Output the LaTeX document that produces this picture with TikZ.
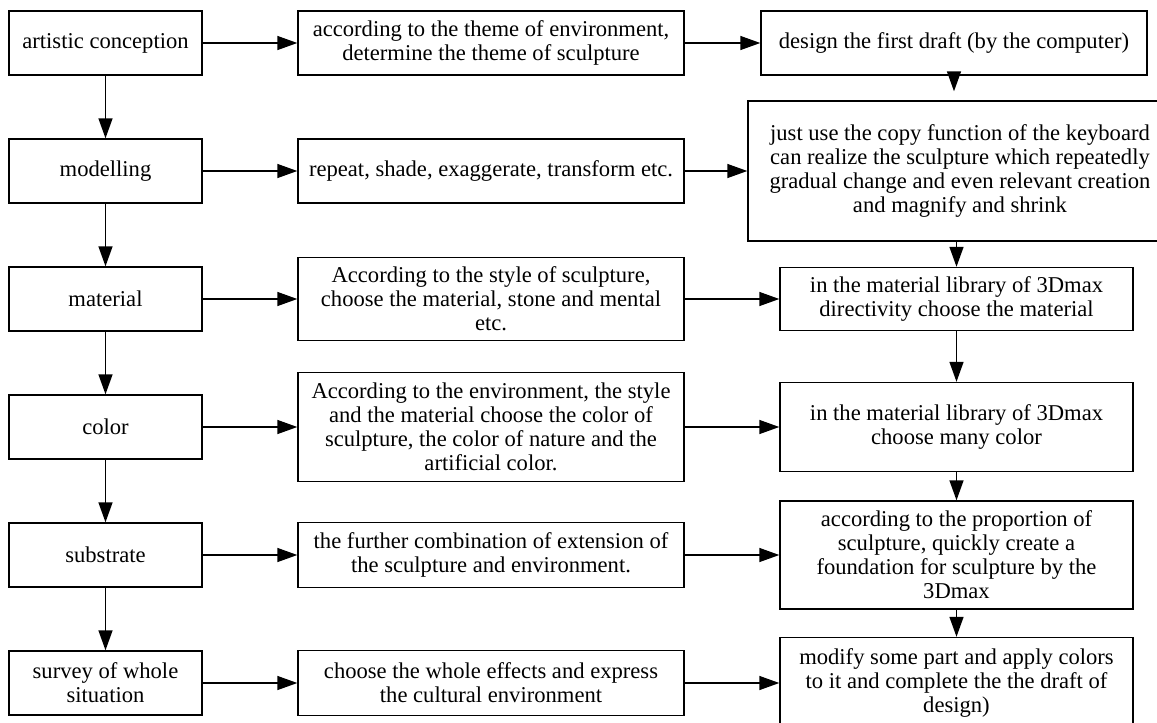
\documentclass[tikz,border=0pt]{standalone}
\usepackage{fontspec}
\setmainfont{Liberation Serif}
\usetikzlibrary{arrows.meta}
\tikzset{
    block/.style = {draw, rectangle, line width=0.7pt,
        minimum height=32pt, inner sep=2pt, align=center},
    stage/.style = {block, minimum width=96.5pt},
    task/.style = {block, minimum width=193pt},
    tool/.style = {block, minimum width=176.5pt},
    arrow/.style = {draw, ->, line width=0.7pt}
}

\begin{document}
\begin{tikzpicture}[x=0.5pt, y=-0.5pt, node distance=64pt, >={Triangle[length=10pt,width=7pt]},
    every node/.style={font=\fontsize{11.3}{12}\selectfont}]
    \useasboundingbox (0,0) rectangle (1157,723);
    % left column
    \node [stage, name=stage1] at (105.5,43) {artistic conception};
    \node [stage, below of=stage1, name=stage2] {modelling};
    \node [stage, below of=stage2, name=stage3] {material};
    \node [stage, below of=stage3, name=stage4] {color};
    \node [stage, below of=stage4, name=stage5] {substrate};
    \node [stage, below of=stage5, name=stage6] {survey of whole\\situation};
    % middle column
    \node [task, right of=stage1, node distance=192.75pt, name=task1] {according to the theme of environment,\\determine the theme of sculpture};
    \node [task, right of=stage2, node distance=192.75pt, name=task2] {repeat, shade, exaggerate, transform etc.};
    \node [task, right of=stage3, node distance=192.75pt, minimum height=41.5pt, name=task3] {According to the style of sculpture,\\choose the material, stone and mental\\etc.};
    \node [task, right of=stage4, node distance=192.75pt, minimum height=54.5pt, name=task4] {According to the environment, the style\\and the material choose the color of\\sculpture, the color of nature and the\\artificial color.};
    \node [task, right of=stage5, node distance=192.75pt, minimum height=32.5pt, name=task5] {the further combination of extension of\\the sculpture and environment.};
    \node [task, right of=stage6, node distance=192.75pt, minimum height=32.5pt, name=task6] {choose the whole effects and express\\the cultural environment};
    % right column
    \node [tool, right of=task1, node distance=231.5pt, minimum width=193pt, name=tool1] {design the first draft (by the computer)};
    \node [tool, right of=task2, node distance=234.5pt, minimum width=212pt, minimum height=70pt, name=tool2] {just use the copy function of the keyboard\\can realize the sculpture which repeatedly\\gradual change and even relevant creation\\and magnify and shrink};
    \node [tool, right of=task3, node distance=232.75pt, minimum height=31.5pt, name=tool3] {in the material library of 3Dmax\\directivity choose the material};
    \node [tool, right of=task4, node distance=232.75pt, minimum height=44.5pt, name=tool4] {in the material library of 3Dmax\\choose many color};
    \node [tool, right of=task5, node distance=232.75pt, minimum height=54pt, name=tool5] {according to the proportion of\\sculpture, quickly create a\\foundation for sculpture by the\\3Dmax};
    \node [tool, right of=task6, node distance=232.75pt, minimum height=45.5pt, name=tool6] {modify some part and apply colors\\to it and complete the the draft of\\design)};
    % arrows
    \foreach \a [evaluate=\a as \next using int(\a+1)] in {1,...,5}{
        \draw [arrow] (stage\a) -- (stage\next);
        }
    \foreach \a in {1,...,6}{
        \draw [arrow] (stage\a) -- (task\a);
        \draw [arrow] (task\a) -- (tool\a);
        }
    \draw [arrow, shorten >=4.5pt] (tool1.south) -- (tool1.south |- tool2.north);
    \foreach \a [evaluate=\a as \next using int(\a+1)] in {2,...,5}{
        \draw [arrow] (tool\a.south -| tool\next.north) -- (tool\next.north);
        }
\end{tikzpicture}
\end{document}
